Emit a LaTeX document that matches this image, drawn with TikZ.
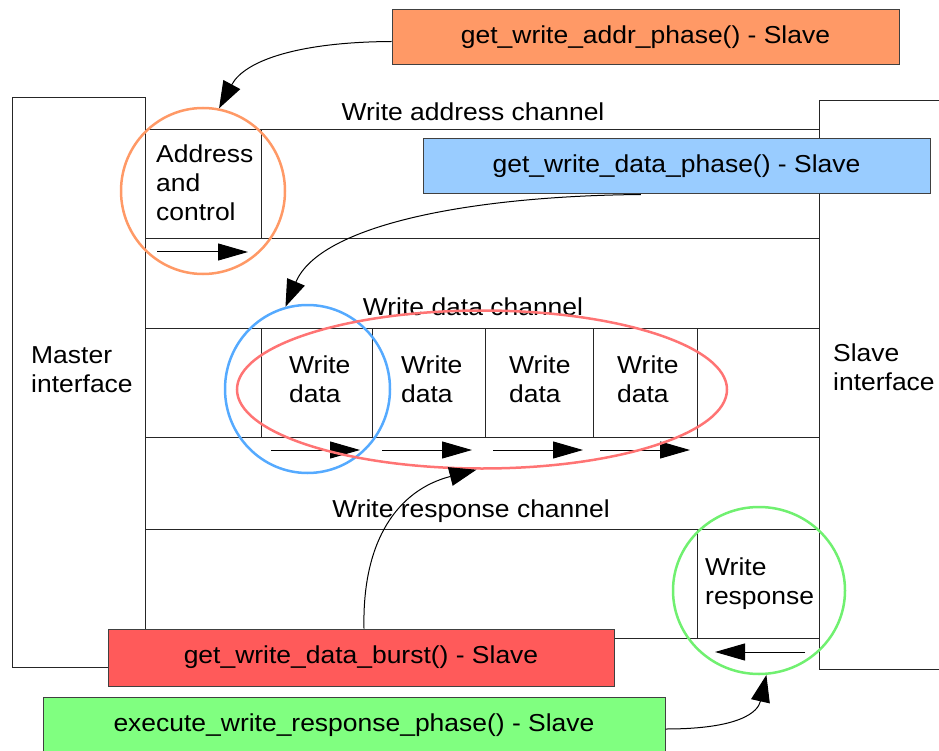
\documentclass[tikz,border=0pt]{standalone}
\usepackage{fontspec}
\setmainfont{Liberation Sans}[FakeStretch=1.08]
\usetikzlibrary{arrows.meta,shapes.geometric,calc}

\definecolor{addrfill}{HTML}{FF9966}
\definecolor{addrring}{HTML}{FF9966}
\definecolor{datafill}{HTML}{99CCFF}
\definecolor{dataring}{HTML}{55AAFF}
\definecolor{burstfill}{HTML}{FF5A5A}
\definecolor{burstring}{HTML}{FF7474}
\definecolor{respfill}{HTML}{80FF80}
\definecolor{respring}{HTML}{70F070}

\begin{document}
\begin{tikzpicture}[x=1pt,y=-1pt,
  wire/.style={draw=black!85, line width=1pt},
  lbl/.style={font=\fontsize{24.5}{29}\selectfont, inner sep=0pt, align=left},
  callbox/.style={draw=black!75, line width=1pt, inner sep=0pt,
    font=\fontsize{24.5}{29}\selectfont},
  flow/.style={line width=1pt, -{Triangle[length=30pt,width=17pt]}},
  pointer/.style={line width=1pt, -{Triangle[length=27pt,width=19pt]}},
  ring/.style={ellipse, draw, line width=2.5pt, inner sep=0pt}
]
\useasboundingbox (0,0) rectangle (939,751);

% master and slave interface blocks
\draw[wire] (12,98) rectangle (145,667);
\draw[wire] (819,101) rectangle (950,669);

% channel boundaries
\foreach \y in {130,239,328,437,529,638}
  \draw[wire] (145,\y) -- (819,\y);

% cell dividers
\draw[wire] (261,130) -- (261,239);
\foreach \x in {261,372,485,593,697}
  \draw[wire] (\x,328) -- (\x,437);
\draw[wire] (697,529) -- (697,638);

% labels (base anchor sits on the last line)
\node[lbl, anchor=base west] (master) at (31,392) {Master\\interface};
\node[lbl, anchor=base west] (slave) at (833,390) {Slave\\interface};
\node[lbl, anchor=base] (awchan) at (473,121) {Write address channel};
\node[lbl, anchor=base] (wchan) at (473,315) {Write data channel};
\node[lbl, anchor=base] (bchan) at (471,517) {Write response channel};
\node[lbl, anchor=base west] (addrcell) at (156,221) {Address\\and\\control};
\foreach \x/\n in {289/1,401/2,509/3,617/4}
  \node[lbl, anchor=base west] (wd\n) at (\x,402) {Write\\data};
\node[lbl, anchor=base west] (respcell) at (705,604) {Write\\response};

% transfer direction arrows
\draw[flow] (157,252) -- (248,252);
\draw[flow] (271,450) -- (360,450);
\draw[flow] (382,450) -- (472,450);
\draw[flow] (493,450) -- (583,450);
\draw[flow] (600,450) -- (690,450);
\draw[flow] (805,652) -- (715,652);

% API call boxes
\node[callbox, fill=addrfill, minimum width=507pt, minimum height=55pt] (oaddr) at (645.5,37.5) {get\_write\_addr\_phase() - Slave};
\node[callbox, fill=datafill, minimum width=507pt, minimum height=55pt] (bdata) at (676.5,166.5) {get\_write\_data\_phase() - Slave};
\node[callbox, fill=burstfill, minimum width=506pt, minimum height=57pt] (rburst) at (361,657.5) {get\_write\_data\_burst() - Slave};
\node[callbox, fill=respfill, minimum width=622pt, minimum height=56pt] (gresp) at (354,725) {execute\_write\_response\_phase() - Slave};

% highlight rings
\node[ring, draw=addrring, minimum width=164pt, minimum height=166pt] (ocirc) at (203,191) {};
\node[ring, draw=dataring, minimum width=165pt, minimum height=168pt] (bcirc) at (307.5,389) {};
\node[ring, draw=burstring, minimum width=490pt, minimum height=158pt] (rell) at (482,389.5) {};
\node[ring, draw=respring, minimum width=172pt, minimum height=167pt] (gcirc) at (759,590.5) {};

% connectors from calls to the highlighted items
\draw[pointer] ($(oaddr.west)+(0,4)$) .. controls (300,42) and (245,60) .. (ocirc.79);
\draw[pointer] ($(bdata.south west)!0.43!(bdata.south east)$) .. controls (470,196) and (320,225) .. (bcirc.105);
\draw[pointer] ($(rburst.north)+(3,0)$) .. controls (362,540) and (398,490) .. (rell.266);
\draw[pointer] ($(gresp.east)+(0,4)$) .. controls (740,729) and (758,712) .. (gcirc.275);
\end{tikzpicture}
\end{document}
